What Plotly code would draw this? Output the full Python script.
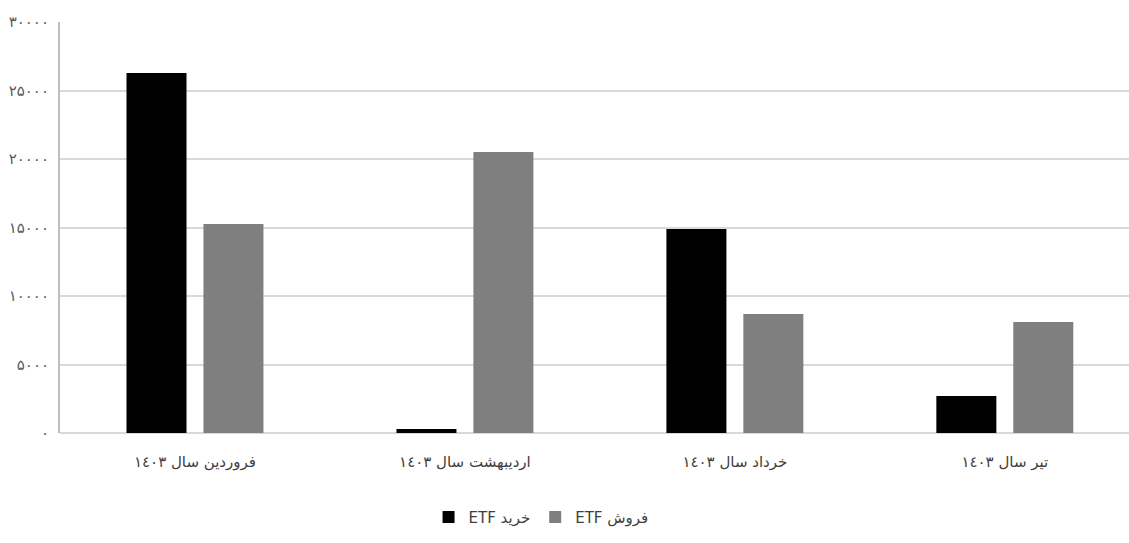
import plotly.graph_objects as go

# Monthly ETF purchase vs. sale values (1403)
months = ["فروردین سال ١٤٠٣", "اردیبهشت سال ١٤٠٣", "خرداد سال ١٤٠٣", "تیر سال ١٤٠٣"]
buy_values = [26280, 290, 14890, 2700]
sell_values = [15250, 20510, 8690, 8100]

buy_name = "ETF خرید"
sell_name = "ETF فروش"

y_tickvals = [0, 5000, 10000, 15000, 20000, 25000, 30000]
y_ticktext = ["٠", "۵٠٠٠", "١٠٠٠٠", "١۵٠٠٠", "٢٠٠٠٠", "٢۵٠٠٠", "٣٠٠٠٠"]

fig = go.Figure()
fig.add_trace(go.Bar(x=months, y=buy_values, name=buy_name,
                     marker=dict(color="#000000", line=dict(width=0))))
fig.add_trace(go.Bar(x=months, y=sell_values, name=sell_name,
                     marker=dict(color="#7f7f7f", line=dict(width=0))))

fig.update_layout(
    width=1129, height=543,
    margin=dict(l=60, r=0, t=22, b=110),
    paper_bgcolor="white", plot_bgcolor="white",
    barmode="group", bargap=0.43, bargroupgap=0.22,
    font=dict(family="DejaVu Serif, DejaVu Sans, serif", color="#404040"),
    showlegend=True,
    legend=dict(orientation="h", x=0.45, y=-0.205, xanchor="center", yanchor="middle",
                font=dict(size=15, color="#404040", family="DejaVu Sans, sans-serif"),
                itemsizing="constant", traceorder="normal"),
)
fig.update_xaxes(
    type="category", range=[-0.5, 3.46],
    showgrid=False, showline=False, ticks="",
    ticklabelstandoff=18,
    tickfont=dict(size=15, color="#404040"),
)
fig.update_yaxes(
    range=[0, 30000], tickvals=y_tickvals, ticktext=y_ticktext,
    showgrid=True, gridcolor="#d9d9d9", gridwidth=1.5,
    zeroline=True, zerolinecolor="#d9d9d9", zerolinewidth=1.5,
    showline=True, linecolor="#bfbfbf", linewidth=2,
    ticks="", ticklabelstandoff=6,
    tickfont=dict(size=15, color="#595959", family="DejaVu Sans, sans-serif"),
)

fig.write_html("out.html")
